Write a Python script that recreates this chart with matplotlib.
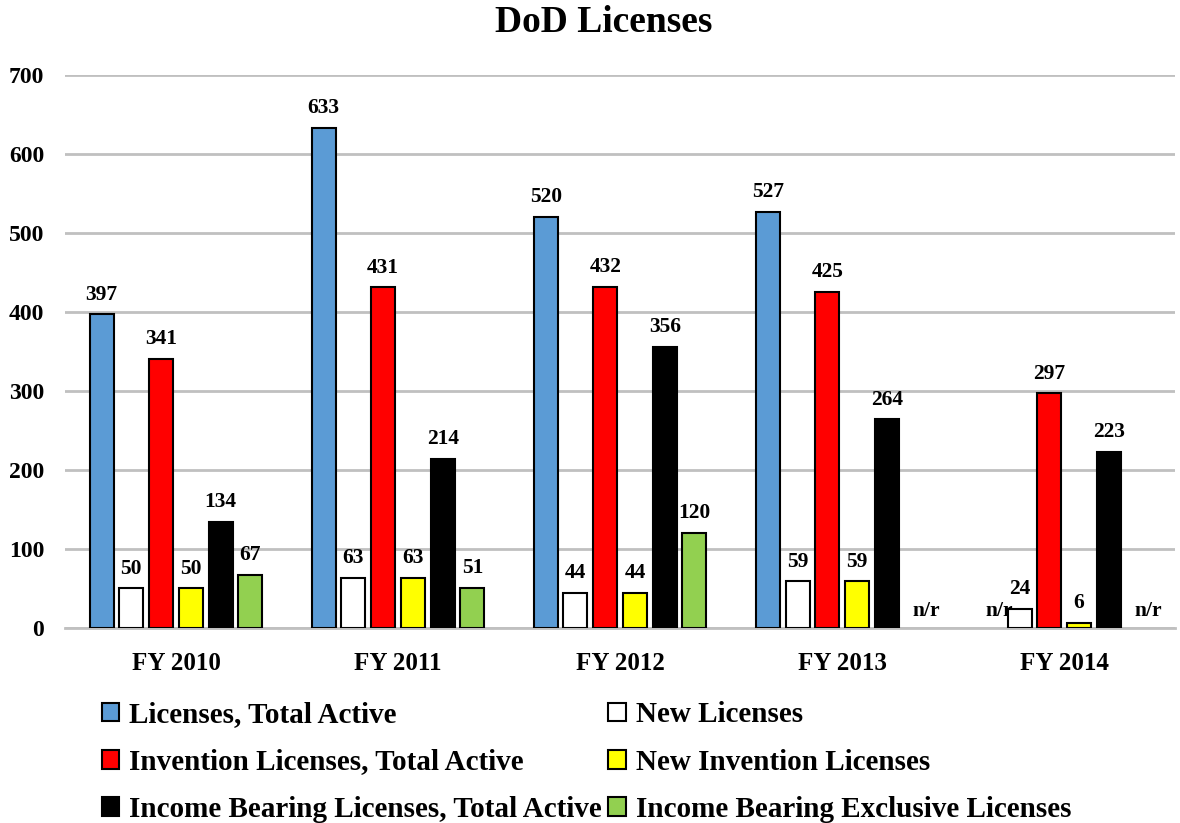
import matplotlib.pyplot as plt
import numpy as np

plt.rcParams['font.family'] = ['Liberation Serif', 'DejaVu Serif']
plt.rcParams['font.weight'] = 'bold'

years = ['FY 2010', 'FY 2011', 'FY 2012', 'FY 2013', 'FY 2014']
series = ['Licenses, Total Active', 'New Licenses', 'Invention Licenses, Total Active',
          'New Invention Licenses', 'Income Bearing Licenses, Total Active',
          'Income Bearing Exclusive Licenses']
# None = not reported (n/r)
total_active = [397, 633, 520, 527, None]
new_licenses = [50, 63, 44, 59, 24]
invention_active = [341, 431, 432, 425, 297]
new_invention = [50, 63, 44, 59, 6]
income_active = [134, 214, 356, 264, 223]
income_exclusive = [67, 51, 120, None, None]

values = [total_active, new_licenses, invention_active, new_invention,
          income_active, income_exclusive]
colors = ['#5b9bd5', '#ffffff', '#ff0000', '#ffff00', '#000000', '#92d050']

fig = plt.figure(figsize=(11.8, 8.23), dpi=100)
ax = fig.add_axes([0.055, 0.237, 0.941, 0.672])

x = np.arange(len(years))
pitch = 0.134
width = 0.108
handles = []
for i, (vals, c) in enumerate(zip(values, colors)):
    pos = x + (i - 2.5) * pitch
    h = [v if v is not None else np.nan for v in vals]
    bars = ax.bar(pos, h, width, color=c, edgecolor='black', linewidth=1.5,
                  label=series[i], zorder=3)
    handles.append(bars)
    for p, v in zip(pos, vals):
        if v is None:
            ax.annotate('n/r', (p, 0), xytext=(7, 5), textcoords='offset points',
                        ha='center', va='bottom', fontsize=15.5, fontweight='bold')
        else:
            ax.annotate(str(v), (p, v), xytext=(0, 7), textcoords='offset points',
                        ha='center', va='bottom', fontsize=15.5, fontweight='bold')

ax.set_ylim(0, 700)
ax.set_xlim(-0.5, 4.5)
ax.set_yticks(range(0, 701, 100))
ax.set_xticks(x)
ax.set_xticklabels(years, fontsize=18)
ax.tick_params(axis='both', length=0)
ax.tick_params(axis='y', labelsize=17, pad=15)
ax.tick_params(axis='x', pad=17)
ax.grid(axis='y', color='#c0c0c0', linewidth=2, zorder=0)
for s in ['top', 'right', 'left']:
    ax.spines[s].set_visible(False)
ax.spines['bottom'].set_color('#c0c0c0')
ax.spines['bottom'].set_linewidth(2)

fig.text(0.512, 0.973, 'DoD Licenses', fontsize=27, fontweight='bold',
         ha='center', va='center')

order = [0, 2, 4, 1, 3, 5]
fig.legend([handles[i] for i in order], [series[i] for i in order],
           loc='upper left', bbox_to_anchor=(0.064, 0.18), ncol=2,
           frameon=False, handlelength=0.6, handleheight=0.6,
           handletextpad=0.35, columnspacing=0.2, labelspacing=0.7,
           prop={'weight': 'bold', 'size': 21})

fig.savefig('out.png', dpi=100)
